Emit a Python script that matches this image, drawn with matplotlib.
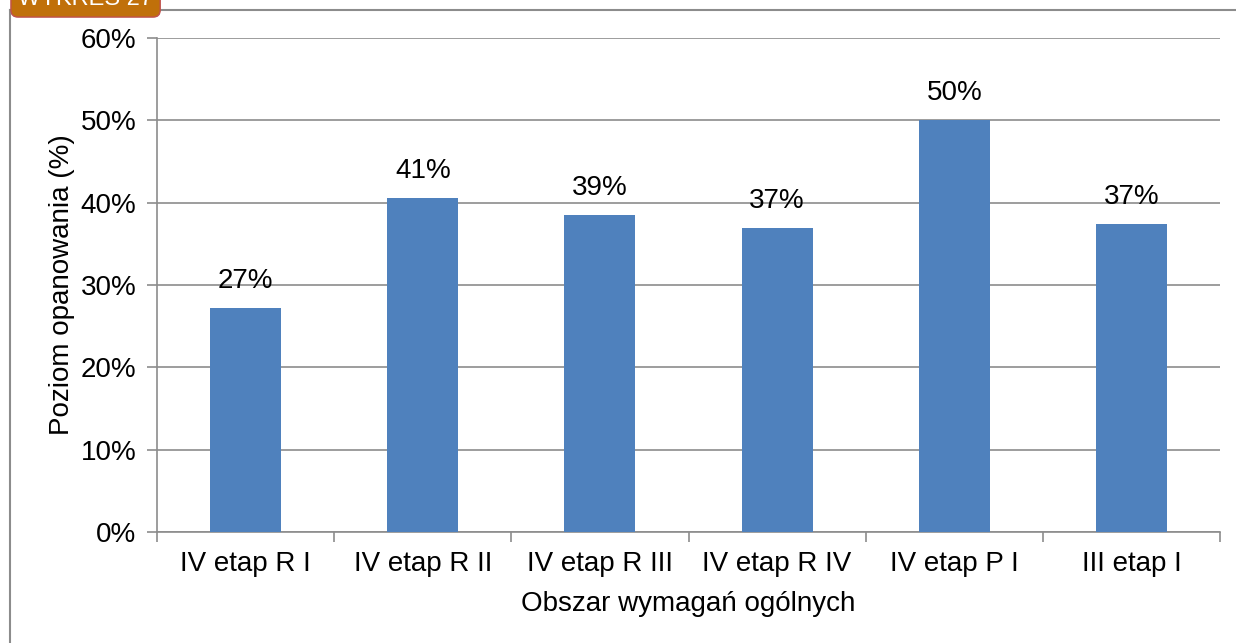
import matplotlib
matplotlib.use("Agg")
import matplotlib.pyplot as plt
from matplotlib.lines import Line2D
from matplotlib.ticker import MultipleLocator, FuncFormatter

categories = ["IV etap R I", "IV etap R II", "IV etap R III", "IV etap R IV", "IV etap P I", "III etap I"]
values = [27.2, 40.6, 38.5, 36.9, 50.0, 37.4]
labels = ["27%", "41%", "39%", "37%", "50%", "37%"]

plt.rcParams['font.family'] = ['Liberation Sans', 'DejaVu Sans']
FS = 20

fig = plt.figure(figsize=(12.36, 6.43), dpi=100)
W, H = 1236, 643
ax = fig.add_axes([157 / W, 1 - 532 / H, (1220 - 157) / W, (532 - 38) / H])

x = range(len(categories))
ax.bar(x, values, width=0.4, color="#4F81BD", zorder=3)
for xi, v, lab in zip(x, values, labels):
    ax.annotate(lab, (xi, v), xytext=(0, 10), textcoords="offset points",
                ha="center", va="bottom", fontsize=FS, color="black")

ax.set_xlim(-0.5, len(categories) - 0.5)
ax.set_ylim(0, 60)
ax.yaxis.set_major_locator(MultipleLocator(10))
ax.yaxis.set_major_formatter(FuncFormatter(lambda v, p: f"{int(v)}%"))
ax.grid(axis="y", color="#8C8C8C", linewidth=1.2, zorder=0)
ax.set_xticks(list(x))
ax.set_xticklabels(categories)
ax.set_xticks([i - 0.5 for i in range(len(categories) + 1)], minor=True)
ax.tick_params(axis="x", which="major", length=0, labelsize=FS, pad=14)
ax.tick_params(axis="x", which="minor", length=7, color="#8C8C8C", width=1.2)
ax.tick_params(axis="y", length=7, color="#8C8C8C", width=1.2, labelsize=FS, pad=8)
for s in ["top", "right"]:
    ax.spines[s].set_visible(False)
for s in ["left", "bottom"]:
    ax.spines[s].set_color("#8C8C8C")
    ax.spines[s].set_linewidth(1.2)
ax.set_ylabel("Poziom opanowania (%)", fontsize=FS, labelpad=4)
ax.set_xlabel("Obszar wymagań ogólnych", fontsize=FS, labelpad=10)

# outer frame
fig.add_artist(Line2D([9.5 / W, 9.5 / W], [0, 1 - 9.5 / H], color="#8C8C8C", lw=1.5, transform=fig.transFigure))
fig.add_artist(Line2D([9.5 / W, 1], [1 - 9.5 / H, 1 - 9.5 / H], color="#8C8C8C", lw=1.5, transform=fig.transFigure))

# cropped header tag
fig.text(18 / W, 1 + 1 / H, "WYKRES 27", fontsize=17, color="white", ha="left", va="center",
         bbox=dict(boxstyle="round,pad=0.3", fc="#C0700A", ec="#C0504D", lw=1))

fig.savefig("out.png", dpi=100)
